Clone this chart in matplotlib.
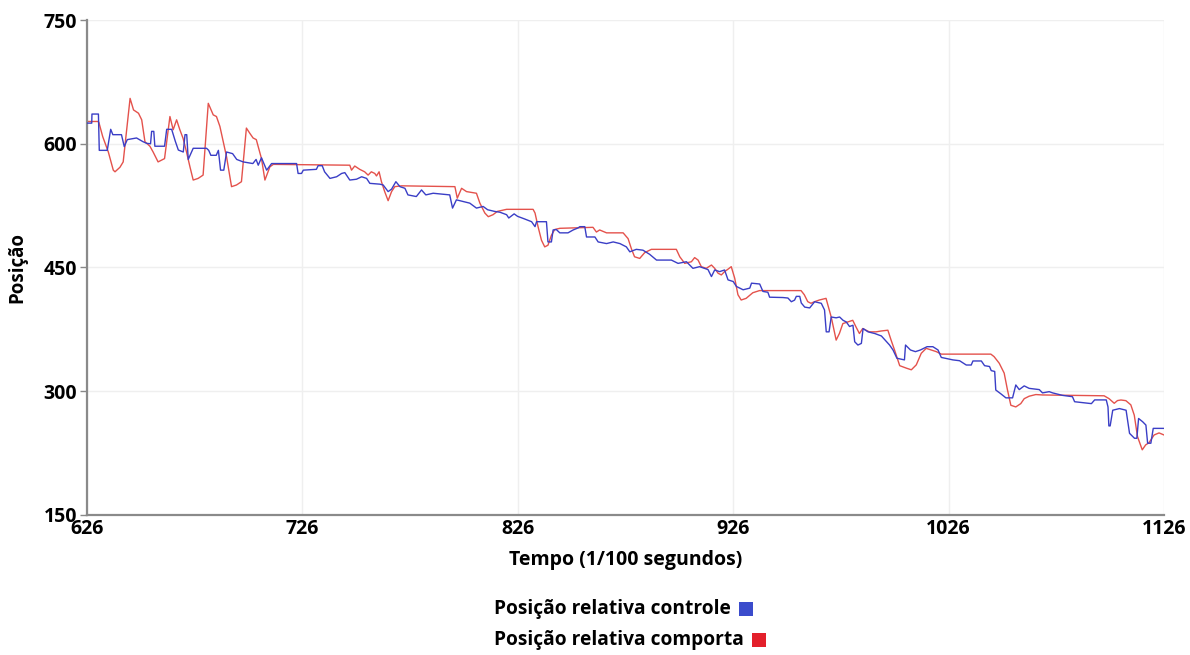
import matplotlib
matplotlib.use("Agg")
import matplotlib.pyplot as plt
from matplotlib.patches import Rectangle

# Control signal (blue) and gate position (red), time in 1/100 s
t_controle = [626, 628.2, 628.3, 631.3, 631.7, 635.4, 637, 638, 642, 643.3, 644.7, 649, 652, 653.7,
              655.5, 656, 657, 657.5, 662, 663, 665.3, 667, 668.4, 670.7, 671.5, 672.3, 673, 675.3,
              681.5, 682.5, 683.5, 686, 687, 688, 689.5, 690.8, 693.6, 695.5, 698.5, 703, 704.5,
              705.5, 707, 709.4, 711.7, 723.3, 724, 725.6, 726.4, 732.5, 733.3, 735.2, 736.3, 738.8,
              741.9, 744.2, 745.7, 748, 751.1, 753.5, 755.8, 757.3, 762, 763.5, 765.8, 767.4, 769.4,
              771.3, 773.6, 775, 778.9, 781.3, 783.3, 786.7, 794.4, 795.7, 797.5, 803.7, 806.8,
              809.9, 812, 815.2, 817.7, 820.8, 821.8, 824.3, 825.9, 829, 832.4, 834, 834.7, 839.3,
              840, 841.6, 842.4, 843.9, 845.5, 849.3, 851.7, 854, 854.8, 857.1, 857.9, 861.8, 863.3,
              867.2, 870.3, 873.4, 876.4, 878, 881, 884.1, 887.2, 890.4, 897.3, 900.4, 904.3, 907.3,
              910.4, 912.7, 914.3, 915.9, 917.4, 919.7, 922, 923.6, 926, 927.5, 929, 930.6, 933.7,
              934.5, 938.3, 939.8, 942.1, 942.9, 949.1, 951.4, 953, 954.5, 955.3, 956.9, 957.6,
              959.2, 961.5, 963.8, 966.9, 968.4, 969.2, 970.5, 971.5, 973.8, 975.4, 977, 978.5, 980,
              981.6, 982.4, 983.9, 985.5, 986.3, 988.6, 991.7, 994.8, 998.6, 1000.2, 1002, 1005.5,
              1006, 1008.3, 1010.6, 1012.9, 1016, 1018.7, 1021.1, 1022.6, 1028, 1031.1, 1034.2,
              1036.5, 1037.3, 1041.2, 1042.7, 1045, 1045.8, 1047.4, 1047.9, 1050.2, 1052.6, 1055.7,
              1057.2, 1058.8, 1061.1, 1063.4, 1068.1, 1069.6, 1072.7, 1074.3, 1075.8, 1078.9,
              1083.5, 1084.5, 1092.3, 1093.8, 1099.2, 1100, 1100.4, 1101, 1102.2, 1105.3, 1108.4,
              1110, 1112.3, 1113.4, 1114.2, 1116.1, 1117.6, 1118.4, 1119.9, 1121, 1125.4, 1126]
v_controle = [625, 625, 636, 636, 592, 592, 617.5, 611, 611, 596.5, 605, 607, 602.5, 600.5,
              600, 615, 615, 597, 597, 617.5, 617.5, 603, 592.4, 590, 611, 611, 581, 594.5,
              594.5, 592, 586, 586, 592, 568, 568, 590, 588, 581, 578, 576, 581,
              574, 583, 568, 576, 576, 564, 564, 568, 569, 573.4, 573.4, 566, 558,
              560, 564, 565, 556, 557, 560, 558, 552, 551, 550, 542, 545, 554,
              548, 546, 538, 536, 544, 538, 540, 538, 522, 532, 528, 522,
              524, 520, 518, 517, 514, 510, 515, 512, 509, 505.5, 499.5, 505.5, 505.5,
              481, 481, 495.5, 496, 492, 492, 495.5, 498, 499.5, 499.5, 487, 487, 481,
              479, 481, 479, 475, 469, 472, 471, 466, 459, 459, 455, 457, 449,
              451, 449, 447.5, 439, 447, 445, 447, 435, 433, 427, 425, 423, 425,
              431, 430, 421, 420, 414, 413.6, 413, 408.5, 410.5, 415, 415, 407,
              402, 401, 408.5, 406.6, 398.5, 372, 372, 390, 389, 390, 386, 384, 378.5,
              380, 360, 356, 358, 376, 372, 370, 367, 356, 350, 340, 338,
              356, 350, 348, 350, 354, 354, 350, 341, 338, 337, 331.8,
              331.8, 336.7, 336.7, 331, 330, 325, 324, 301.5, 297, 292, 292,
              307.6, 302, 306.5, 303.5, 302, 298, 299.5, 298, 297, 295,
              293.4, 287.3, 285, 289.5, 289.5, 281, 258, 258, 277, 279, 277,
              249, 243, 243, 267, 263, 259, 237, 237, 255, 255, 255]

t_comporta = [626, 631, 631.5, 633.3, 635.9, 638.2, 639, 641.3, 642.8, 646, 647.6, 649.9, 651.4,
              652.9, 655.2, 656.7, 659, 662, 664.5, 666, 667.6, 669.1, 670.6, 672.2, 673.8, 675.3,
              677.6, 679.9, 682.3, 684.6, 686.1, 687.7, 690.8, 693.1, 695.4, 697.7, 700, 701.5,
              703.1, 704.6, 707, 708.6, 710.9, 712.5, 748, 748.8, 750.3, 752.6, 754.9, 756.5, 758,
              759.6, 760.4, 761.6, 762.7, 764.2, 765.8, 767.4, 768.9, 772, 796.8, 797.9, 799.9,
              802.2, 806.8, 808.4, 810.7, 812.3, 814.5, 816.5, 820.8, 833.1, 834, 835.4, 837,
              838.5, 840, 841.6, 843.1, 845.5, 860.9, 862.5, 864, 867.2, 874.9, 877.2, 878.7,
              880.2, 882.6, 884.9, 888, 899.6, 901.2, 903.5, 906.6, 908.1, 909.7, 911.2, 913.5,
              915.9, 917.4, 919, 920.5, 922, 923.6, 925.1, 926.7, 928.2, 929.7, 932, 935.1, 938.2,
              957.5, 959, 960.6, 962.1, 963.7, 966, 969.1, 971.5, 973.8, 975.3, 976.9, 979.2,
              981.5, 983, 984.6, 986.1, 989.2, 992.3, 994.6, 997.8, 999.3, 1000.9, 1003.3, 1006.4,
              1008.7, 1011, 1013.3, 1015.6, 1018, 1020.3, 1022.6, 1045.6, 1047.1, 1049.5, 1051.8,
              1053.3, 1054.9, 1057.2, 1059.5, 1061.1, 1063.4, 1066.5, 1069.6, 1098.2, 1100.5,
              1102.9, 1104.4, 1106, 1108.3, 1110.6, 1112.2, 1113.7, 1115.9, 1117.5, 1119, 1121.4,
              1123.7, 1126]
v_comporta = [627, 627, 626, 608.6, 590, 568, 566, 571.5, 578, 655, 641, 637, 629,
              602.5, 597, 590, 578, 582, 633, 617, 629, 617, 606.6, 590, 572, 556,
              558, 562, 649, 635, 633, 621, 584, 548, 550, 554, 619, 613,
              607, 605, 582, 556, 572, 575, 574, 568, 573, 569, 566, 562, 566,
              564, 561, 566, 554, 542, 531, 542, 548, 549, 548, 534, 546,
              542, 540, 528, 516, 511.6, 514, 518, 520.5, 520.5, 516, 499.5, 483,
              475, 477, 489, 496, 497.5, 498.7, 493, 495.5, 492, 492, 485, 473,
              463, 461, 468, 472, 472, 463, 455, 457, 462, 459, 451, 449,
              453, 449, 443, 441, 445, 448, 451, 437, 417, 410.6, 412.6, 419.4, 422,
              422, 417, 408.6, 406.6, 408.5, 410.6, 412.6, 390, 362, 370, 382, 384,
              386, 378, 370, 376, 372, 372, 373, 374, 362, 350, 331, 328,
              326, 332, 346, 352, 350, 348, 345, 345, 342, 334, 322,
              302, 283, 281, 285, 291, 294, 296, 295.5, 294.5, 291,
              285.4, 288.7, 289.4, 288.6, 283.5, 271, 245, 229, 235, 237.5, 247,
              249.5, 247]

x_ticks = [626, 726, 826, 926, 1026, 1126]
y_ticks = [150, 300, 450, 600, 750]
legend_labels = ["Posição relativa controle", "Posição relativa comporta"]

blue_line = "#3a3ec6"
red_line = "#e4524c"
blue_box = "#3b4ccc"
red_box = "#e3202b"

plt.rcParams["font.family"] = ["Open Sans", "DejaVu Sans"]

fig = plt.figure(figsize=(11.9, 6.55), dpi=100)
ax = fig.add_axes([87 / 1190, 1 - 515 / 655, (1164 - 87) / 1190, (515 - 20) / 655])

ax.plot(t_controle, v_controle, color=blue_line, lw=1.0, zorder=3)
ax.plot(t_comporta, v_comporta, color=red_line, lw=1.0, zorder=2)

ax.set_xlim(626, 1126)
ax.set_ylim(150, 750)
ax.set_xticks(x_ticks)
ax.set_yticks(y_ticks)
ax.set_xticklabels([str(v) for v in x_ticks], fontsize=14, fontweight="bold")
ax.set_yticklabels([str(v) for v in y_ticks], fontsize=14, fontweight="bold")
ax.tick_params(axis="y", length=5, width=1, color="#888888", pad=2)
ax.tick_params(axis="x", length=0, pad=3)
ax.grid(True, color="#efefef", lw=1)
ax.set_axisbelow(True)
for side in ("top", "right"):
    ax.spines[side].set_visible(False)
for side in ("left", "bottom"):
    ax.spines[side].set_color("#8a8a8a")
    ax.spines[side].set_linewidth(1.6)

ax.set_xlabel("Tempo (1/100 segundos)", fontsize=14, fontweight="bold", labelpad=8)
ax.set_ylabel("Posição", fontsize=13.5, fontweight="bold", labelpad=12)

# Legend: text followed by a coloured square
fig.canvas.draw()
renderer = fig.canvas.get_renderer()
W, H = fig.bbox.width, fig.bbox.height
for label, color, y_px in zip(legend_labels, [blue_box, red_box], [609, 640]):
    txt = fig.text(494 / W, 1 - y_px / H, label, fontsize=13.8, fontweight="bold",
                   ha="left", va="center")
    bb = txt.get_window_extent(renderer)
    size = 14
    fig.patches.append(Rectangle(((bb.x1 + 8) / W, (H - y_px - size / 2) / H),
                                 size / W, size / H, transform=fig.transFigure,
                                 facecolor=color, edgecolor="none"))

fig.savefig("out.png", dpi=100)
